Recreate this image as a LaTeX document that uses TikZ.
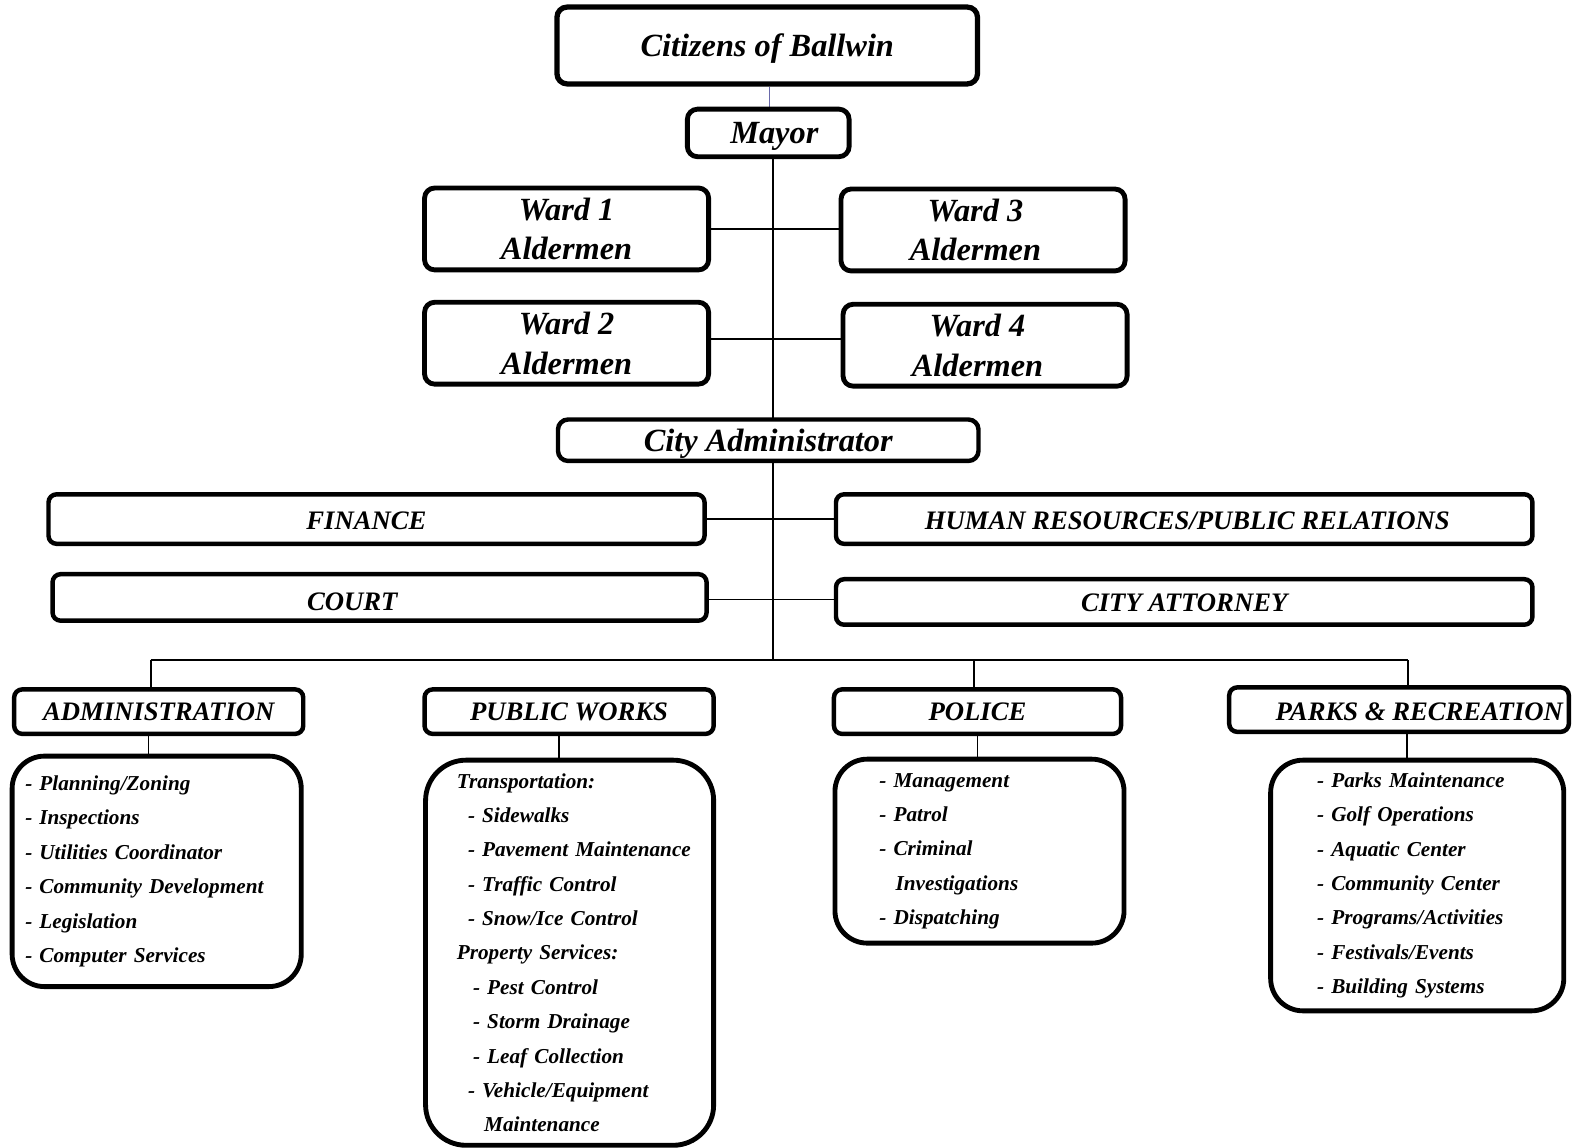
\documentclass[tikz,border=0pt]{standalone}
\usepackage{fontspec}
\setmainfont{Liberation Serif}
\usetikzlibrary{calc}
\definecolor{linkblue}{RGB}{105,105,170}
\pgfdeclarelayer{background}
\pgfsetlayers{background,main}
\begin{document}
\begin{tikzpicture}[x=0.5pt,y=-0.5pt,
  bigbox/.style={draw, fill=white, line width=2.4pt, rounded corners=5pt, inner sep=0pt, align=center,
    text depth=0pt, font=\bfseries\itshape\fontsize{16}{19.5}\selectfont},
  catbox/.style={draw, fill=white, line width=2.2pt, rounded corners=4pt, inner sep=0pt,
    text height=9pt, text depth=0pt, font=\bfseries\itshape\fontsize{13.2}{15}\selectfont},
  listbox/.style={draw, fill=white, line width=2.4pt, rounded corners=16pt, inner sep=0pt, align=left,
    font=\bfseries\itshape\fontsize{10.5}{17}\selectfont},
  link/.style={line width=1pt},
  conn/.style={line width=0.7pt}]
\useasboundingbox (0,0) rectangle (1568,1135);

% top levels
\node[bigbox, line width=2.6pt, minimum width=208pt, minimum height=38pt] (cit) at (759,45) {Citizens of Ballwin};
\node[bigbox, minimum width=80pt, minimum height=23.5pt] (mayor) at (760,131.5) {\kern6pt Mayor};
\node[bigbox, minimum width=140.5pt, minimum height=40.5pt] (w1) at (560.5,226.5) {Ward 1\\Aldermen};
\node[bigbox, minimum width=140.5pt, minimum height=40.5pt] (w3) at (972.5,227.5) {Ward 3\kern7.5pt\\Aldermen\kern7.5pt};
\node[bigbox, minimum width=140.5pt, minimum height=40.5pt] (w2) at (560.5,339.5) {Ward 2\\Aldermen};
\node[bigbox, minimum width=140.5pt, minimum height=40.5pt] (w4) at (974.5,341.5) {Ward 4\kern7.5pt\\Aldermen\kern7.5pt};
\node[bigbox, line width=2.2pt, minimum width=208pt, minimum height=20.5pt] (ca) at (760,435.5) {City Administrator};

% staff offices
\node[catbox, text height=10.2pt, minimum width=324.5pt, minimum height=24.5pt] (fin) at (372.5,513.5) {FINANCE\kern10pt};
\node[catbox, text height=10.2pt, minimum width=344.5pt, minimum height=24.5pt] (hr) at (1171.5,513.5) {\kern3pt HUMAN RESOURCES/PUBLIC RELATIONS};
\node[catbox, text height=12.7pt, minimum width=323.5pt, minimum height=23pt] (court) at (375.5,591) {COURT\kern27pt};
\node[catbox, minimum width=344.5pt, minimum height=22.5pt] (att) at (1171.5,595.5) {CITY ATTORNEY};

% departments
\node[catbox, minimum width=143pt, minimum height=22pt] (adm) at (157,704) {ADMINISTRATION};
\node[catbox, minimum width=143pt, minimum height=22pt] (pw) at (563,704) {PUBLIC WORKS};
\node[catbox, minimum width=142pt, minimum height=22pt] (pol) at (967,704) {POLICE};
\node[catbox, text height=10.7pt, minimum width=168pt, minimum height=22pt] (park) at (1384,702) {\kern20pt PARKS \& RECREATION};

% lists
\node[listbox, minimum width=143pt, minimum height=114pt, text width=130pt] (admL) at (155,862)
 {\mbox{- Planning/Zoning}\\\mbox{- Inspections}\\\mbox{- Utilities Coordinator}\\\mbox{- Community Development}\\\mbox{- Legislation}\\\mbox{- Computer Services}};
\node[listbox, rounded corners=20pt, minimum width=142.5pt, minimum height=190.5pt, text width=111.5pt] (pwL) at (563.5,942.5)
 {\mbox{Transportation:}\\
  \mbox{\hspace*{5.5pt}- Sidewalks}\\
  \mbox{\hspace*{5.5pt}- Pavement Maintenance}\\
  \mbox{\hspace*{5.5pt}- Traffic Control}\\
  \mbox{\hspace*{5.5pt}- Snow/Ice Control}\\
  \mbox{Property Services:}\\
  \mbox{\hspace*{8pt}- Pest Control}\\
  \mbox{\hspace*{8pt}- Storm Drainage}\\
  \mbox{\hspace*{8pt}- Leaf Collection}\\
  \mbox{\hspace*{5.5pt}- Vehicle/Equipment}\\
  \mbox{\hspace*{13.5pt}Maintenance}};
\node[listbox, minimum width=143pt, minimum height=91pt, text width=99pt] (polL) at (969,842)
 {\mbox{- Management}\\\mbox{- Patrol}\\\mbox{- Criminal}\\\mbox{\hspace*{8pt}Investigations}\\\mbox{- Dispatching}};
\node[listbox, minimum width=145pt, minimum height=124pt, text width=99pt] (parkL) at (1402,876)
 {\mbox{- Parks Maintenance}\\\mbox{- Golf Operations}\\\mbox{- Aquatic Center}\\\mbox{- Community Center}\\\mbox{- Programs/Activities}\\\mbox{- Festivals/Events}\\\mbox{- Building Systems}};

\begin{pgfonlayer}{background}
\draw[conn, draw=linkblue] ([xshift=1pt]cit.south) -- ([xshift=1pt]cit.south |- mayor.north);
\coordinate (hub) at (765,653);
\draw[link] (mayor.south -| hub) -- (hub);
\draw[conn] (w1.east) -- (w1.east -| w3.west);
\draw[conn] ([yshift=2pt]w2.east) -- ([yshift=2pt]w2.east -| w4.west);
\draw[conn] (fin.east) -- (fin.east -| hr.west);
\draw[conn] ([yshift=-1pt]court.east) -- ([yshift=-1pt]court.east -| att.west);
\coordinate (busL) at (149,653);
\coordinate (busR) at (1393,653);
\draw[link] (busL) -- (busR);
\draw[link] (busL) -- (busL |- adm.north);
\draw[link] ([xshift=-1.5pt]pol.north |- hub) -- ([xshift=-1.5pt]pol.north);
\draw[link] (busR) -- (busR |- park.north);
\draw[conn] ([xshift=-5pt]adm.south) -- ([xshift=-5pt]adm.south |- admL.north);
\draw[conn] ([xshift=-5pt]pw.south) -- ([xshift=-5pt]pw.south |- pwL.north);
\draw[conn] (pol.south) -- (pol.south |- polL.north);
\draw[conn] ([xshift=4pt]park.south) -- ([xshift=4pt]park.south |- parkL.north);
\end{pgfonlayer}
\end{tikzpicture}
\end{document}
